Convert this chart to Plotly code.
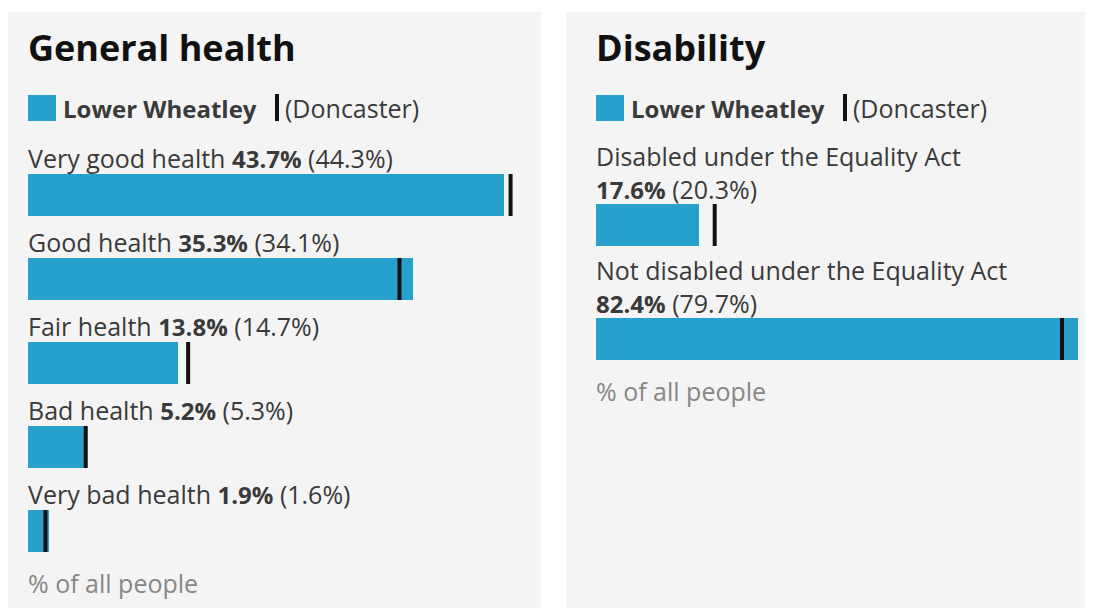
import plotly.graph_objects as go

# General health
health_labels = ["Very good health", "Good health", "Fair health", "Bad health", "Very bad health"]
health_local = [43.7, 35.3, 13.8, 5.2, 1.9]
health_area = [44.3, 34.1, 14.7, 5.3, 1.6]

# Disability
dis_labels = ["Disabled under the Equality Act", "Not disabled under the Equality Act"]
dis_local = [17.6, 82.4]
dis_area = [20.3, 79.7]

local_name = "Lower Wheatley"
area_name = "Doncaster"

# the page body adds an 8px margin, so the figure covers page x/y 8..
OFF = 8
W, H = 1093 - OFF, 608 - OFF
BLUE = "#27a0cc"
TEXT = "#3a3a3a"
GREY = "#878787"
FONT = "Open Sans"
LBL = 25


def px(x):
    # page x -> paper fraction
    return (x - OFF) / W


def bold(s):
    return f'<b><span style="font-size:24px">{s}</span></b>'


fig = go.Figure()

# y axis works in page pixels from the top
left_y = [195 + 84 * i for i in range(len(health_labels))]
right_y = [225 + 114 * i for i in range(len(dis_labels))]

for xs, vals, ax, ys in [(health_local, health_area, "x", left_y), (dis_local, dis_area, "x2", right_y)]:
    fig.add_trace(go.Bar(
        x=xs, y=ys, orientation="h", width=42,
        marker=dict(color=BLUE, line=dict(width=0)),
        xaxis=ax, yaxis="y", showlegend=False, hoverinfo="skip"
    ))
    fig.add_trace(go.Scatter(
        x=vals, y=ys, mode="markers",
        marker=dict(symbol="line-ns", size=30, line=dict(width=4, color="#111111")),
        xaxis=ax, yaxis="y", showlegend=False, hoverinfo="skip"
    ))

shapes = [
    # panel backgrounds
    dict(type="rect", xref="paper", yref="y", x0=px(8), x1=px(541), y0=12, y1=620,
         fillcolor="#f4f4f4", line=dict(width=0), layer="below"),
    dict(type="rect", xref="paper", yref="y", x0=px(566), x1=1, y0=12, y1=620,
         fillcolor="#f4f4f4", line=dict(width=0), layer="below"),
]
annotations = []


def note(x, y, text, size=LBL, color=TEXT):
    annotations.append(dict(
        x=px(x), y=y, xref="paper", yref="y", text=text,
        showarrow=False, xanchor="left", yanchor="middle", align="left",
        font=dict(family=FONT, size=size, color=color)
    ))


def add_panel(x0, title, lines, foot_y):
    note(x0 - 2, 47, f"<b>{title}</b>", size=36, color="#111111")
    # legend
    shapes.append(dict(type="rect", xref="paper", yref="y",
                       x0=px(x0), x1=px(x0 + 28), y0=95, y1=121,
                       fillcolor=BLUE, line=dict(width=0)))
    note(x0 + 33, 108, bold(local_name))
    shapes.append(dict(type="line", xref="paper", yref="y",
                       x0=px(x0 + 249), x1=px(x0 + 249), y0=94, y1=121,
                       line=dict(color="#111111", width=4)))
    note(x0 + 255, 108, f"({area_name})")
    for t, yy in lines:
        note(x0 - 2, yy, t)
    note(x0 - 2, foot_y, "% of all people", color=GREY)


left_lines = [(f"{l} {bold(f'{v}%')} ({a}%)", y - 37)
              for l, v, a, y in zip(health_labels, health_local, health_area, left_y)]
add_panel(28, "General health", left_lines, 583)

right_lines = [(f"{l}<br>{bold(f'{v}%')} ({a}%)", y - 53)
               for l, v, a, y in zip(dis_labels, dis_local, dis_area, right_y)]
add_panel(596, "Disability", right_lines, 391)

fig.update_layout(
    width=W, height=H,
    margin=dict(l=0, r=0, t=0, b=0),
    paper_bgcolor="white", plot_bgcolor="rgba(0,0,0,0)",
    font=dict(family=FONT, color=TEXT),
    xaxis=dict(domain=[px(28), px(540)], range=[0, 47], visible=False, fixedrange=True),
    xaxis2=dict(domain=[px(596), 1.0], range=[0, 85], visible=False, fixedrange=True, anchor="y"),
    yaxis=dict(domain=[0, 1], range=[608, 8], visible=False, fixedrange=True),
    shapes=shapes,
    annotations=annotations,
    bargap=0,
)

fig.write_html("out.html")
